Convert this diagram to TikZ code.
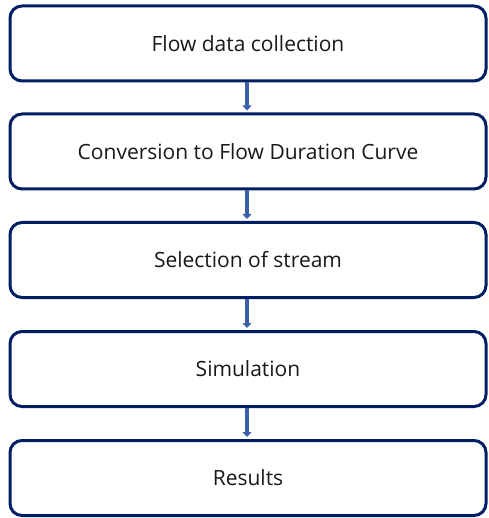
\documentclass[tikz,border=0pt]{standalone}
\usepackage{fontspec}
\setmainfont{Open Sans}
\usetikzlibrary{arrows.meta}
\definecolor{boxblue}{RGB}{0,30,100}
\definecolor{arrblue}{RGB}{60,95,170}
\tikzset{
  stepbox/.style={draw=boxblue, line width=3pt, rounded corners=12pt, minimum width=476pt, minimum height=75pt, inner sep=0pt, font=\fontsize{21}{24}\selectfont, text=black!90, fill=white},
  flowarrow/.style={draw=arrblue, line width=4pt, -{Triangle[length=5pt,width=9pt]}, shorten >=2pt}
}
\begin{document}
\begin{tikzpicture}[x=1pt,y=1pt]
\useasboundingbox (0,0) rectangle (488,-518);
\node[stepbox] (b1) at (248,-43.5) {Flow data collection};
\node[stepbox] (b2) at (248,-151.5) {Conversion to Flow Duration Curve};
\node[stepbox] (b3) at (248,-260) {Selection of stream};
\node[stepbox] (b4) at (248,-369) {Simulation};
\node[stepbox] (b5) at (248,-478) {Results};
\draw[flowarrow] ([xshift=-1pt]b1.south) -- ([xshift=-1pt]b2.north);
\draw[flowarrow] ([xshift=-1pt]b2.south) -- ([xshift=-1pt]b3.north);
\draw[flowarrow] ([xshift=-1pt]b3.south) -- ([xshift=-1pt]b4.north);
\draw[flowarrow] ([xshift=-1pt]b4.south) -- ([xshift=-1pt]b5.north);
\end{tikzpicture}
\end{document}
